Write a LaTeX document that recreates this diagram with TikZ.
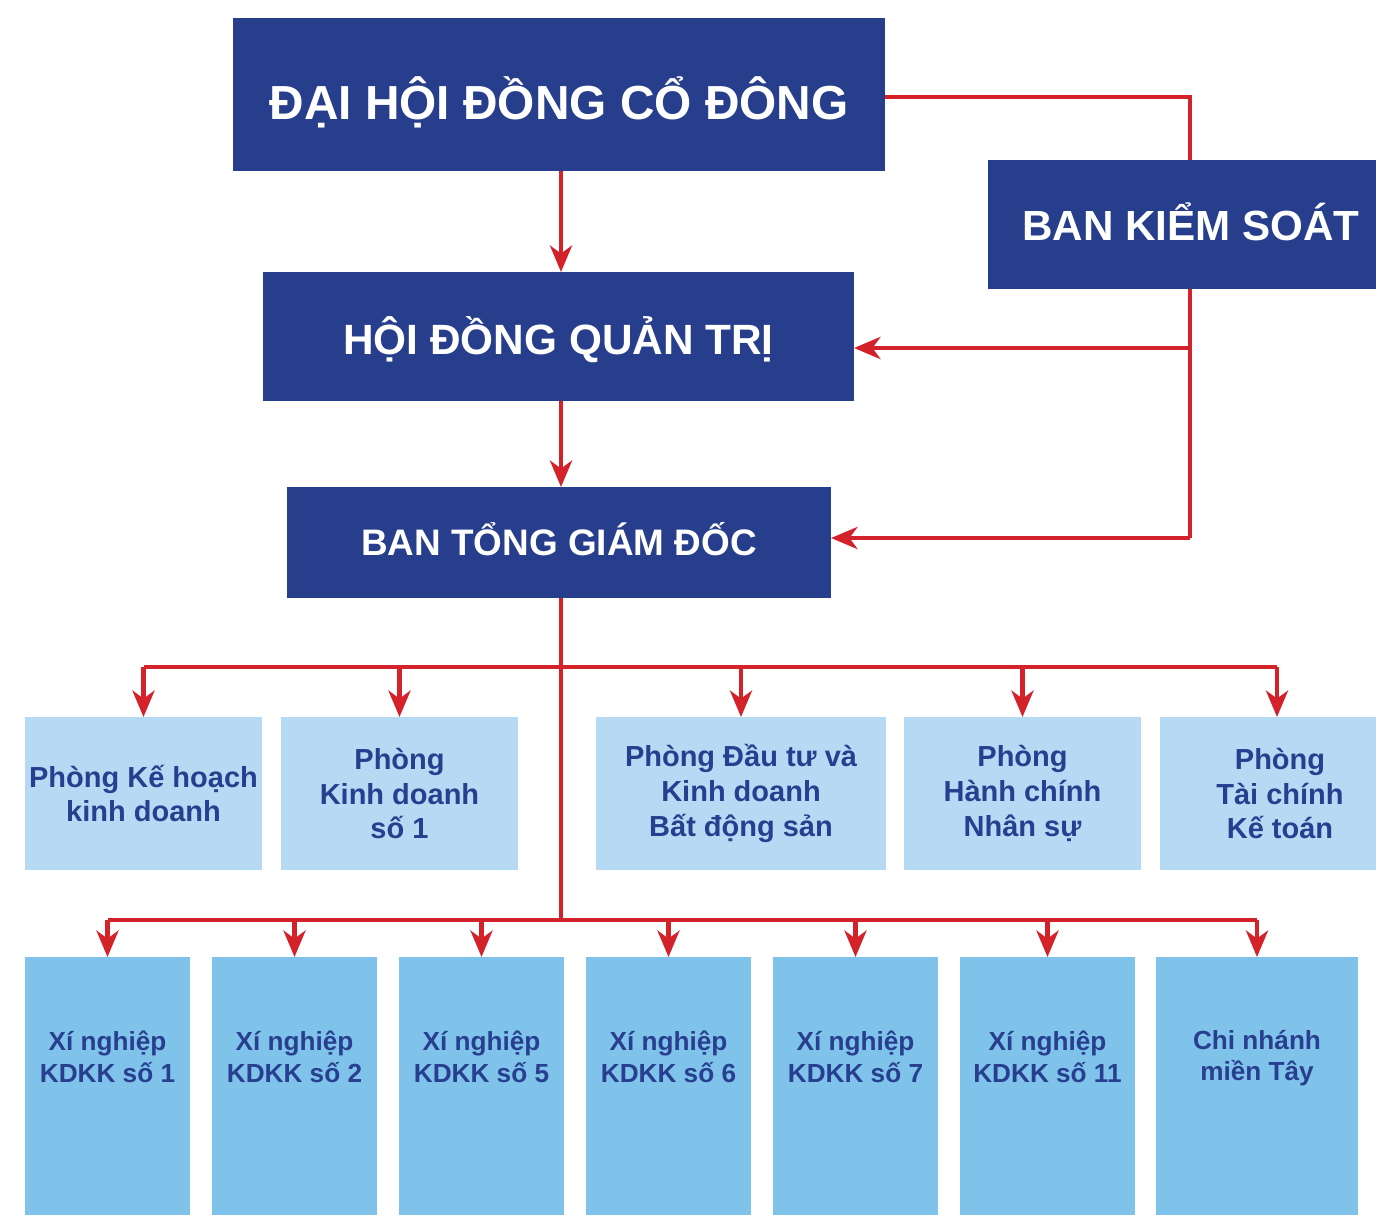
\documentclass[tikz,border=0pt]{standalone}
\usepackage{fontspec}
\setmainfont{Liberation Sans}
\usetikzlibrary{arrows.meta}
\definecolor{dblue}{HTML}{263E8C}
\definecolor{tblue}{HTML}{283F8F}
\definecolor{lblue}{HTML}{B6DAF3}
\definecolor{mblue}{HTML}{7FC3EA}
\definecolor{cred}{HTML}{D3222A}
\newcommand\boxnode[7]{\node[#1, minimum width={(#5-#3)*0.02cm}, minimum height={(#6-#4)*0.02cm}] (#2) at ({(#3+#5)/2},{(#4+#6)/2}) {#7};}
\tikzset{
  top/.style={fill=dblue, text=white, font=\bfseries, inner sep=0pt, outer sep=0pt, text depth=0pt},
  dept/.style={fill=lblue, text=tblue, font=\bfseries\fontsize{16.5}{19.8}\selectfont, align=center, inner sep=0pt, outer sep=0pt},
  unit/.style={fill=mblue, inner sep=0pt, outer sep=0pt},
  unittext/.style={text=tblue, font=\bfseries\fontsize{14.9}{18}\selectfont, align=center, inner sep=0pt},
  line/.style={draw=cred, line width=2.8pt},
  arr/.style={line, -{Stealth[length=15pt, width=12.5pt, inset=4.5pt]}}
}
\begin{document}
\begin{tikzpicture}[x=0.02cm, y=-0.02cm]
\clip (0,0) rectangle (1376,1214);
\fill[white] (0,0) rectangle (1376,1214);
% top boxes
\boxnode{top, font=\bfseries\fontsize{27.2}{30}\selectfont, text height=28.5pt}{dh}{233}{18}{885}{171}{ĐẠI HỘI ĐỒNG CỔ ĐÔNG}
\boxnode{top, font=\bfseries\fontsize{24}{28}\selectfont, text height=18.6pt}{bks}{988}{160}{1394}{289}{BAN KIỂM SOÁT}
\boxnode{top, font=\bfseries\fontsize{24.1}{28}\selectfont, text height=20pt}{hd}{263}{272}{854}{401}{HỘI ĐỒNG QUẢN TRỊ}
\boxnode{top, font=\bfseries\fontsize{21}{25}\selectfont, text height=14.5pt}{bt}{287}{487}{831}{598}{BAN TỔNG GIÁM ĐỐC}
% departments
\boxnode{dept}{p1}{25}{717}{262}{870}{Phòng Kế hoạch\\kinh doanh}
\boxnode{dept}{p2}{281}{717}{518}{870}{Phòng\\Kinh doanh\\số 1}
\boxnode{dept}{p3}{596}{717}{886}{870}{Phòng Đầu tư và\\Kinh doanh\\Bất động sản}
\boxnode{dept}{p4}{904}{717}{1141}{870}{Phòng\\Hành chính\\Nhân sự}
\boxnode{dept}{p5}{1160}{717}{1400}{870}{Phòng\\Tài chính\\Kế toán}
% units
\boxnode{unit}{u1}{25}{957}{190}{1240}{}
\boxnode{unit}{u2}{212}{957}{377}{1240}{}
\boxnode{unit}{u3}{399}{957}{564}{1240}{}
\boxnode{unit}{u4}{586}{957}{751}{1240}{}
\boxnode{unit}{u5}{773}{957}{938}{1240}{}
\boxnode{unit}{u6}{960}{957}{1135}{1240}{}
\boxnode{unit}{u7}{1156}{957}{1358}{1240}{}
\node[unittext] (t1) at (u1.center |- 0,1057) {Xí nghiệp\\KDKK số 1};
\node[unittext] (t2) at (u2.center |- 0,1057) {Xí nghiệp\\KDKK số 2};
\node[unittext] (t3) at (u3.center |- 0,1057) {Xí nghiệp\\KDKK số 5};
\node[unittext] (t4) at (u4.center |- 0,1057) {Xí nghiệp\\KDKK số 6};
\node[unittext] (t5) at (u5.center |- 0,1057) {Xí nghiệp\\KDKK số 7};
\node[unittext] (t6) at (u6.center |- 0,1057) {Xí nghiệp\\KDKK số 11};
\node[unittext] (t7) at (u7.center |- 0,1058) {Chi nhánh\\miền Tây};
% connectors
\coordinate (k1) at (1190,97);
\coordinate (j1) at (1190,348);
\coordinate (j2) at (1190,538);
\coordinate (c0) at (561,0);
\draw[line] (dh.east |- k1) -- (k1) -- (k1 |- bks.north);
\draw[line] (bks.south -| k1) -- (j2);
\draw[arr] (j1) -- (hd.east |- j1);
\draw[arr] (j2) -- (bt.east |- j2);
\draw[arr] (dh.south -| c0) -- (hd.north -| c0);
\draw[arr] (hd.south -| c0) -- (bt.north -| c0);
\coordinate (b1) at (561,667);
\coordinate (b2) at (561,920);
\draw[line] (bt.south -| b1) -- (b2);
\coordinate (p5t) at (1277,717);
\draw[line] (p1.north |- b1) -- (p5t |- b1);
\draw[line] (u1.north |- b2) -- (u7.north |- b2);
\foreach \n in {p1,p2,p3,p4} \draw[arr] (\n.north |- b1) -- (\n.north);
\draw[arr] (p5t |- b1) -- (p5t);
\foreach \n in {u1,u2,u3,u4,u5,u6,u7} \draw[arr] (\n.north |- b2) -- (\n.north);
\end{tikzpicture}
\end{document}
